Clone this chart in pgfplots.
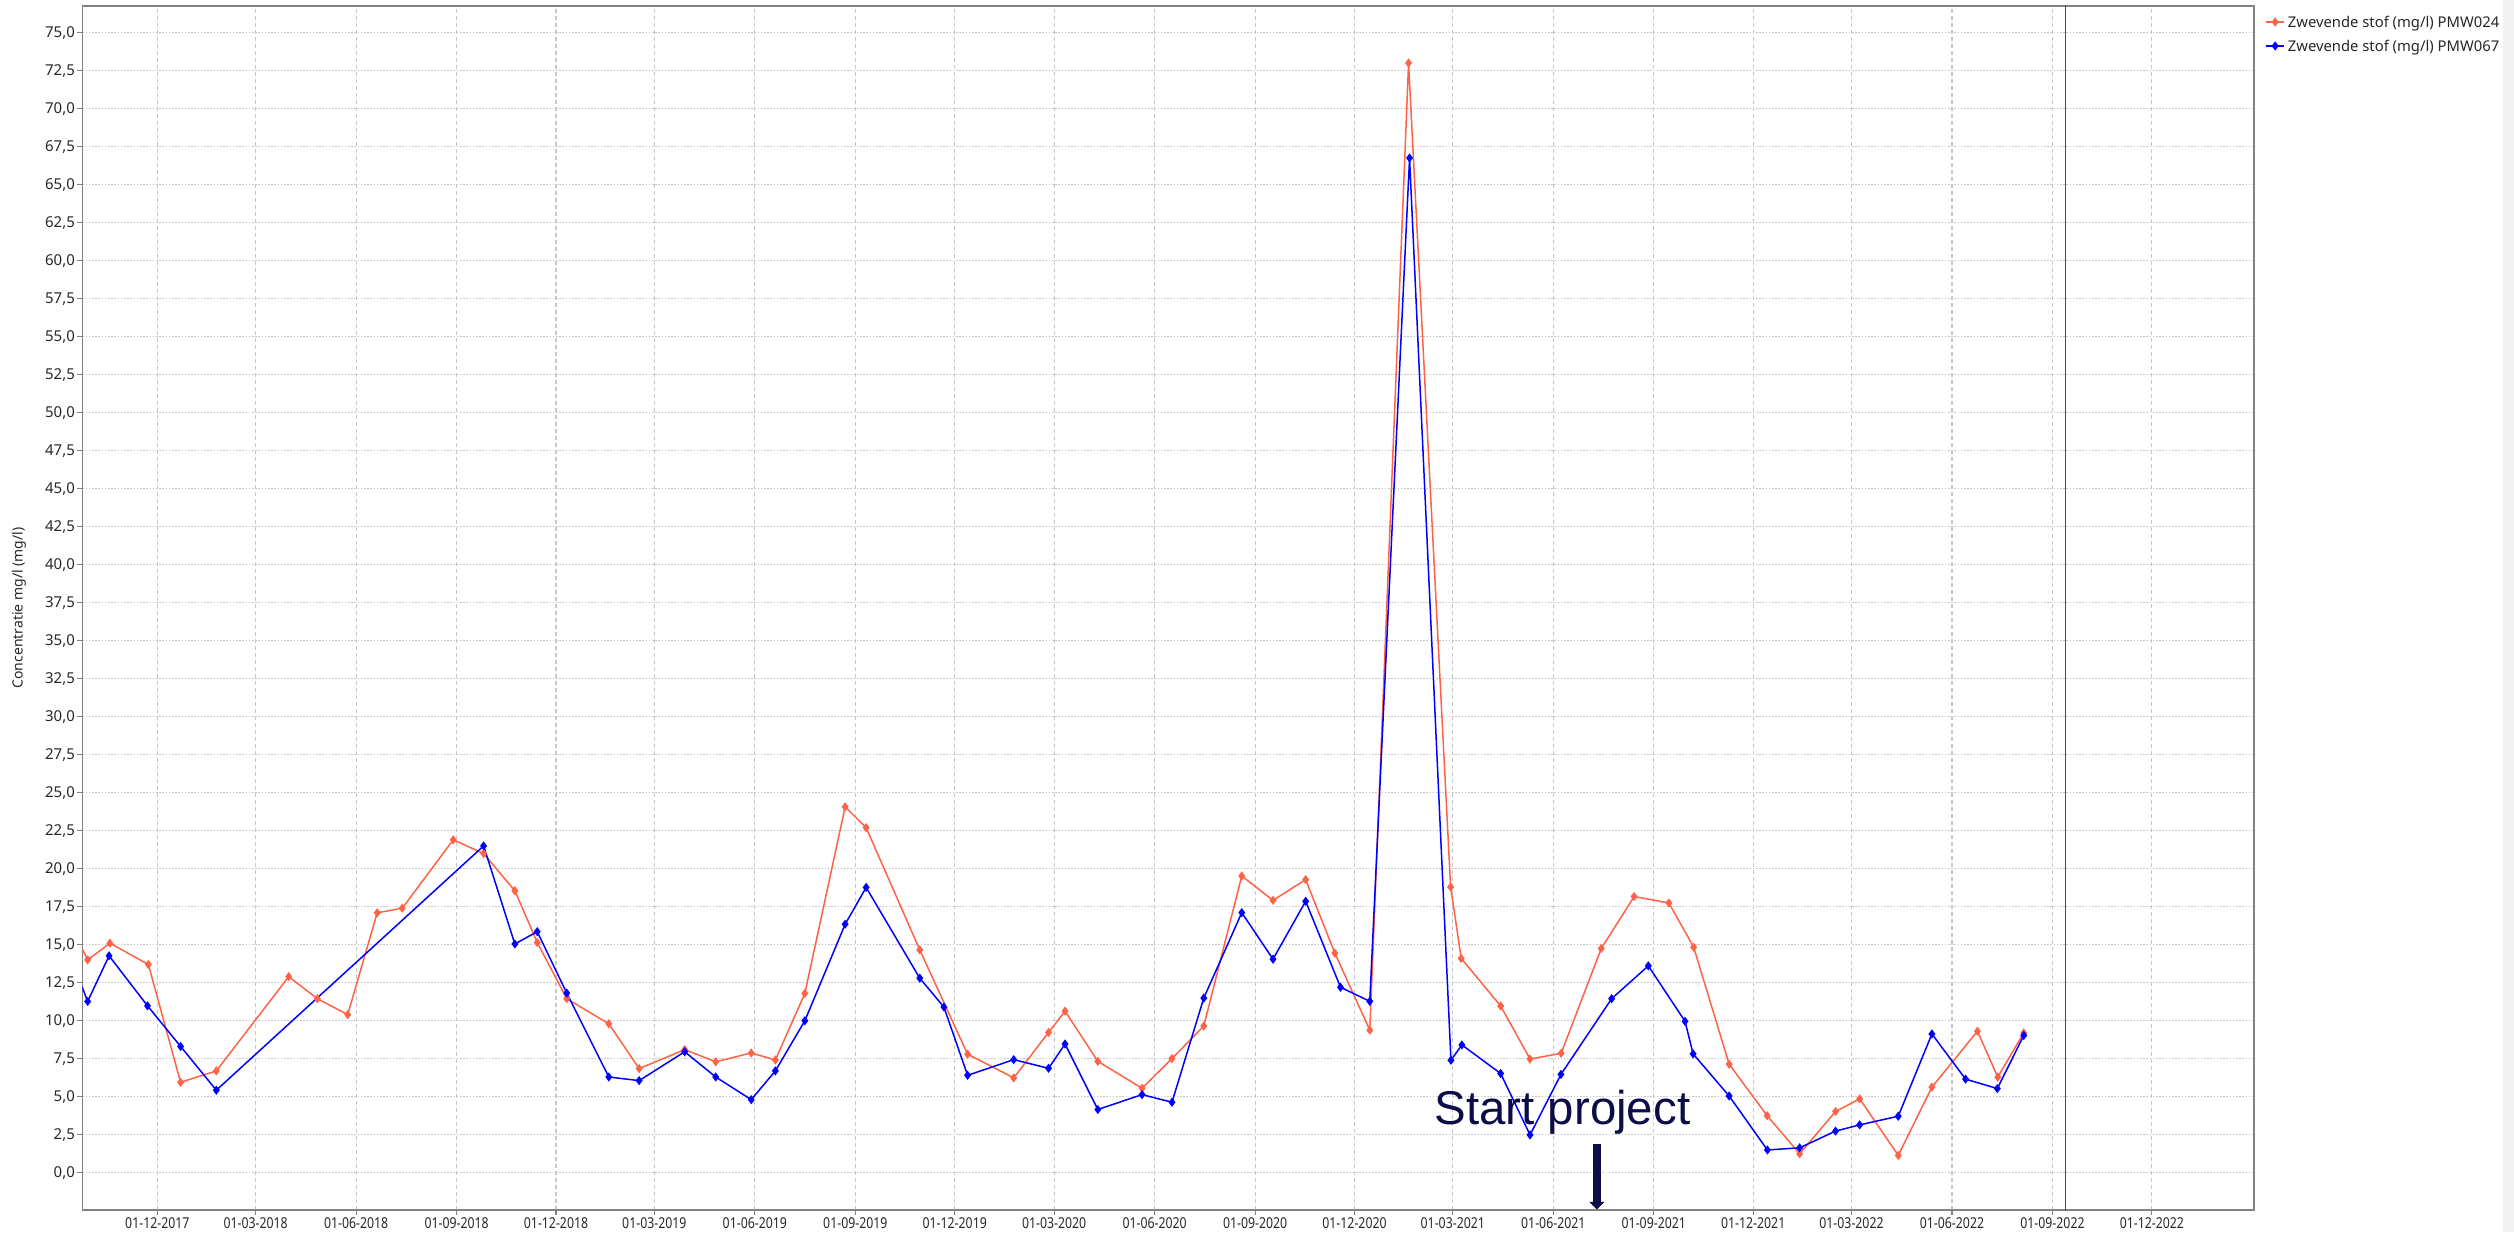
\documentclass[border=0pt]{standalone}
\usepackage{fontspec}
\setmainfont{Noto Sans}
\newfontfamily\arialfont{Liberation Sans}
\usepackage{graphicx}
\usepackage{pgfplots}
\pgfplotsset{compat=1.18}
\usetikzlibrary{arrows.meta}
\definecolor{serred}{RGB}{255,99,71}
\definecolor{serblue}{RGB}{0,0,255}
\definecolor{navy}{RGB}{12,12,72}
\definecolor{gridgray}{RGB}{200,200,200}
\definecolor{framegray}{RGB}{130,130,130}
\definecolor{txt}{RGB}{40,40,40}

\begin{document}
\begin{tikzpicture}
\useasboundingbox (-41.15pt,-11pt) rectangle (1215.85pt,605pt);
\fill[white] (-41.15pt,-11pt) rectangle (1215.85pt,605pt);
\fill[gray!10] (1210.5pt,-11pt) rectangle (1215.85pt,605pt);
\begin{axis}[
  at={(0pt,0pt)}, anchor=south west,
  scale only axis, width=1085.85pt, height=602pt,
  xmin=-68.7, xmax=1919.5, ymin=-2.45, ymax=76.75,
  axis line style={framegray, line width=0.8pt},
  tick pos=left, tick align=outside, major tick length=2.5pt,
  every tick/.style={framegray, line width=0.6pt},
  xtick={0,90,182,274,365,455,547,639,730,821,913,1005,1096,1186,1278,1370,1461,1551,1643,1735,1826},
  xticklabels={01-12-2017,01-03-2018,01-06-2018,01-09-2018,01-12-2018,01-03-2019,01-06-2019,01-09-2019,01-12-2019,01-03-2020,01-06-2020,01-09-2020,01-12-2020,01-03-2021,01-06-2021,01-09-2021,01-12-2021,01-03-2022,01-06-2022,01-09-2022,01-12-2022},
  ytick={0,2.5,...,75},
  scaled ticks=false,
  xmajorgrids, ymajorgrids,
  major x grid style={gridgray, line width=0.6pt, dash pattern=on 2pt off 1.5pt},
  major y grid style={gridgray, line width=0.6pt, dash pattern=on 0.8pt off 0.8pt},
  xticklabel style={font=\fontsize{7.5}{9}\selectfont, xscale=0.82, text=txt, inner sep=1pt},
  yticklabel style={font=\fontsize{7.5}{9}\selectfont, text=txt, inner sep=1pt,
    /pgf/number format/fixed, /pgf/number format/fixed zerofill,
    /pgf/number format/precision=1, /pgf/number format/use comma,
    /pgf/number format/assume math mode=true},
  ylabel={Concentratie mg/l (mg/l)},
  ylabel style={at={(axis description cs:-0.0291,0.5)}, anchor=center, rotate=0, font=\bfseries\fontsize{7}{8}\selectfont, text=txt},
  legend style={at={(axis description cs:1.00507,0.997)}, anchor=north west, draw=none, fill=none,
    inner sep=0pt, row sep=0pt, font=\fontsize{7.4}{9}\selectfont, text=txt,
    nodes={inner sep=1.5pt, text height=7pt, text depth=2pt}},
  legend cell align=left,
  legend image code/.code={\draw[mark repeat=2, mark phase=2] plot coordinates {(0pt,0pt) (4.5pt,0pt) (9pt,0pt)};},
]
\addplot[serred, line width=0.75pt, mark=diamond*, mark size=1.7pt, mark options={solid, fill=serred}] coordinates {
(-80,16.4) (-63.8,14.0) (-43.4,15.1) (-8.2,13.7) (21.3,5.95) (54,6.7) (120.3,12.9) (146.5,11.45) (174.3,10.4) (201.3,17.1) (224.2,17.4) (270.9,21.9) (298.7,21.0) (327.3,18.55) (347.8,15.15) (374.8,11.45) (413.3,9.8) (441.1,6.85) (482.8,8.1) (511.2,7.3) (543.7,7.88) (565.8,7.42) (592.8,11.8) (629.7,24.07) (648.9,22.7) (698,14.66) (741.8,7.8) (784,6.24) (815.9,9.23) (831,10.63) (861,7.33) (901.5,5.56) (928.9,7.51) (958,9.65) (992.8,19.52) (1021.4,17.92) (1051.3,19.28) (1078,14.45) (1110,9.38) (1145.5,73.0) (1184,18.8) (1193.7,14.1) (1229.8,10.97) (1256.7,7.48) (1285.2,7.86) (1321.9,14.75) (1352,18.17) (1383.8,17.75) (1406.5,14.84) (1439,7.14) (1473.8,3.75) (1503.5,1.25) (1536.4,4.03) (1558.5,4.86) (1593.8,1.14) (1624.6,5.63) (1666.3,9.31) (1684.9,6.29) (1708.7,9.2)
};
\addlegendentry{Zwevende stof (mg/l) PMW024}
\addplot[serblue, line width=0.75pt, mark=diamond*, mark size=1.7pt, mark options={solid, fill=serblue}] coordinates {
(-80,14.3) (-63.8,11.27) (-44.2,14.27) (-9,10.98) (21.3,8.31) (54,5.43) (298.7,21.5) (327.3,15.05) (347.8,15.86) (374.8,11.82) (413.3,6.3) (441.1,6.06) (482.8,7.96) (511.2,6.3) (543.7,4.81) (565.8,6.70) (592.8,10.0) (629.7,16.35) (648.9,18.77) (698,12.8) (720.1,10.9) (741.8,6.41) (784,7.44) (815.9,6.87) (831,8.47) (861,4.16) (901.5,5.14) (928.9,4.64) (958,11.49) (992.8,17.11) (1021.4,14.05) (1051.3,17.86) (1083.2,12.2) (1110,11.28) (1146.4,66.75) (1184.3,7.40) (1194.3,8.41) (1229.8,6.53) (1256.7,2.49) (1285,6.47) (1331.4,11.45) (1365,13.61) (1398.6,9.96) (1406,7.82) (1439,5.05) (1474,1.5) (1503.5,1.64) (1536.4,2.74) (1558.5,3.15) (1593.8,3.72) (1624.6,9.13) (1655.4,6.16) (1684.5,5.54) (1708.7,9.03)
};
\addlegendentry{Zwevende stof (mg/l) PMW067}
\addplot[red, line width=0.75pt, forget plot] coordinates {(1746.8,-5) (1746.8,80)};
\node[anchor=base, font=\arialfont\fontsize{23.7}{26}\selectfont, text=navy, inner sep=0pt] at (axis cs:1286.4,3.2) {Start project};
\draw[navy, line width=4pt, -{Triangle[width=7.5pt,length=3.8pt]}] (axis cs:1317.9,1.87) -- (axis cs:1317.9,-2.41);
\end{axis}
\end{tikzpicture}
\end{document}
